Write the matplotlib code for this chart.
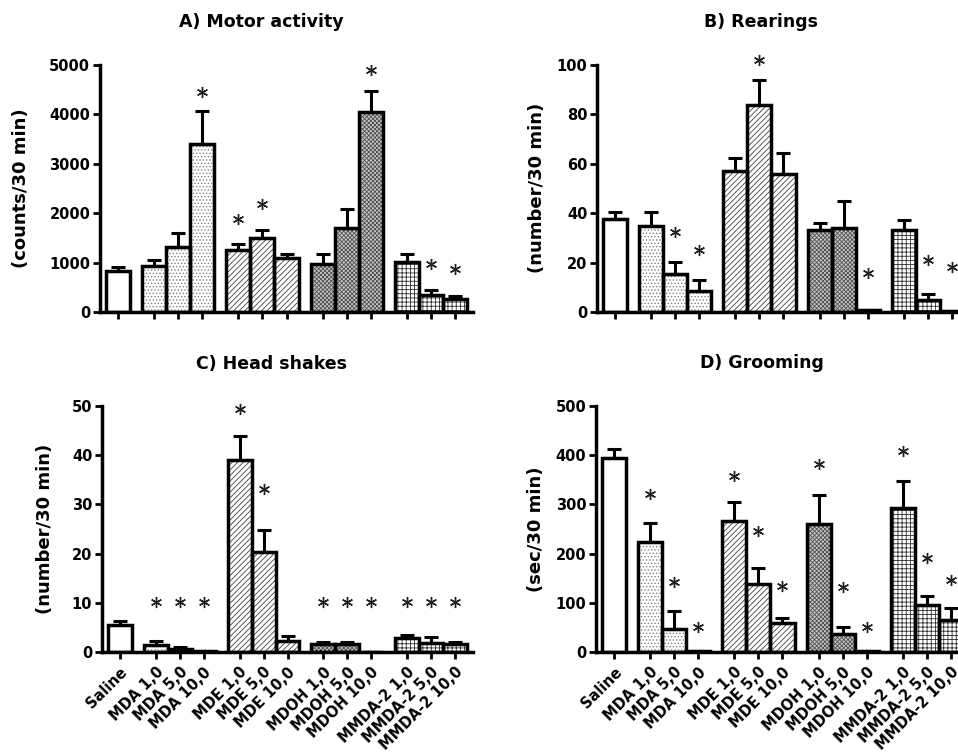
# import packages
import matplotlib
matplotlib.use('Agg')
import matplotlib.pyplot as plt
import numpy as np

plt.rcParams['font.family'] = 'DejaVu Sans'
plt.rcParams['font.weight'] = 'bold'
plt.rcParams['hatch.linewidth'] = 0.6

# treatment groups and labels
groups = ['Saline', 'MDA', 'MDE', 'MDOH', 'MMDA-2']
group_sizes = [1, 3, 3, 3, 3]
tick_labels = ['Saline', 'MDA 1,0', 'MDA 5,0', 'MDA 10,0',
               'MDE 1,0', 'MDE 5,0', 'MDE 10,0',
               'MDOH 1,0', 'MDOH 5,0', 'MDOH 10,0',
               'MMDA-2 1,0', 'MMDA-2 5,0', 'MMDA-2 10,0']

# A) motor activity
motor_mean = [840, 925, 1310, 3400, 1250, 1500, 1090, 980, 1710, 4050, 1010, 350, 270]
motor_sem = [70, 135, 285, 670, 135, 155, 90, 190, 365, 430, 160, 100, 50]
motor_star = [None, None, None, 4460, 1890, 2180, None, None, None, 4900, None, 980, 880]

# B) rearings
rear_mean = [37.8, 34.7, 15.5, 8.4, 57.2, 83.8, 55.8, 33.1, 34.2, 0.7, 33.4, 5.0, 0.3]
rear_sem = [2.7, 5.8, 4.8, 4.7, 5.0, 10.1, 8.7, 3.0, 10.7, 0.2, 4.0, 2.2, 0.1]
rear_star = [None, None, 32.2, 25.0, None, 102, None, None, None, 15.8, None, 21.2, 18.2]

# C) head shakes
head_mean = [5.4, 1.5, 0.7, 0.2, 39.0, 20.4, 2.2, 1.6, 1.6, 0.0, 2.8, 1.8, 1.6]
head_sem = [0.9, 0.7, 0.3, 0.1, 4.9, 4.4, 1.0, 0.4, 0.5, 0.0, 0.7, 1.3, 0.4]
head_star = [None, 10.2, 10.2, 10.2, 49.4, 33.2, None, 10.2, 10.2, 10.2, 10.2, 10.2, 10.2]

# D) grooming
groom_mean = [395, 224, 46, 1.4, 266, 139, 58, 260, 37, 1.4, 293, 95, 66]
groom_sem = [18, 39, 37, 0, 39, 32, 12, 60, 14, 0, 54, 18, 23]
groom_star = [None, 322, 142, 51, 358, 246, 134, 383, 132, 51, 409, 192, 146]

# fill pattern per group
hatches = [None, '.....', '//////', 'xxxxxxxx', '++++']
hatch_colors = ['black', '#808080', '#404040', '#505050', '#303030']
face_colors = ['white', 'white', 'white', '#c8c8c8', 'white']

# bar positions: one unit per bar, half a unit gap between groups
xpos = []
group_of_bar = []
start = 0.0
for g, n in enumerate(group_sizes):
    for i in range(n):
        xpos.append(start + i)
        group_of_bar.append(g)
    start += n + 0.5
xpos = np.array(xpos)

W, H = 958, 752
fig = plt.figure(figsize=(W / 100, H / 100), dpi=100)


def rect(left, top, right, bottom):
    return [left / W, 1 - bottom / H, (right - left) / W, (bottom - top) / H]


def panel(box, mean, sem, star, ymax, ystep, show_labels):
    ax = fig.add_axes(rect(*box))
    mean = np.array(mean)
    sem = np.array(sem)
    # hatch layer then black outline
    for x, m, g in zip(xpos, mean, group_of_bar):
        ax.bar(x, m, width=1.0, color=face_colors[g], edgecolor=hatch_colors[g],
               hatch=hatches[g], linewidth=0, zorder=1)
    ax.bar(xpos, mean, width=1.0, fill=False, edgecolor='black', linewidth=2.5, zorder=2)
    ax.errorbar(xpos, mean, yerr=[np.zeros_like(sem), sem], fmt='none', ecolor='black',
                elinewidth=2.2, capsize=5, capthick=2.2, zorder=3)
    for x, s in zip(xpos, star):
        if s is not None:
            ax.plot(x, s, marker=(6, 2, 0), ms=8, mew=1.0, color='#202020',
                    clip_on=False, zorder=4)
    ax.set_xlim(-0.75, xpos[-1] + 0.75)
    ax.set_ylim(0, ymax)
    ax.set_yticks(np.arange(0, ymax + ystep / 2, ystep))
    ax.set_xticks(xpos)
    if show_labels:
        ax.set_xticklabels(tick_labels, rotation=45, ha='right', rotation_mode='anchor',
                           fontsize=10.5, fontweight='bold')
    else:
        ax.set_xticklabels([])
    ax.tick_params(axis='y', labelsize=10.5, width=2, length=5, pad=2)
    ax.tick_params(axis='x', width=2, length=5, pad=4)
    for s in ['top', 'right']:
        ax.spines[s].set_visible(False)
    for s in ['left', 'bottom']:
        ax.spines[s].set_linewidth(2.5)
    return ax


panel((100, 65, 473, 312), motor_mean, motor_sem, motor_star, 5000, 1000, False)
panel((597, 65, 970, 312), rear_mean, rear_sem, rear_star, 100, 20, False)
panel((102, 406, 473, 652), head_mean, head_sem, head_star, 50, 10, True)
panel((596, 406, 969, 652), groom_mean, groom_sem, groom_star, 500, 100, True)

# titles
titles = ['A) Motor activity', 'B) Rearings', 'C) Head shakes', 'D) Grooming']
title_xy = [(261, 22), (761, 22), (272, 364), (762, 363)]
for t, (x, y) in zip(titles, title_xy):
    fig.text(x / W, 1 - y / H, t, ha='center', va='center', fontsize=12.5, fontweight='bold')

# y axis labels
ylabels = ['(counts/30 min)', '(number/30 min)', '(number/30 min)', '(sec/30 min)']
ylabel_xy = [(21, 188), (537, 188), (45, 529), (536, 529)]
for t, (x, y) in zip(ylabels, ylabel_xy):
    fig.text(x / W, 1 - y / H, t, ha='center', va='center', rotation=90,
             fontsize=13, fontweight='bold')

plt.savefig('out.png', dpi=100)
